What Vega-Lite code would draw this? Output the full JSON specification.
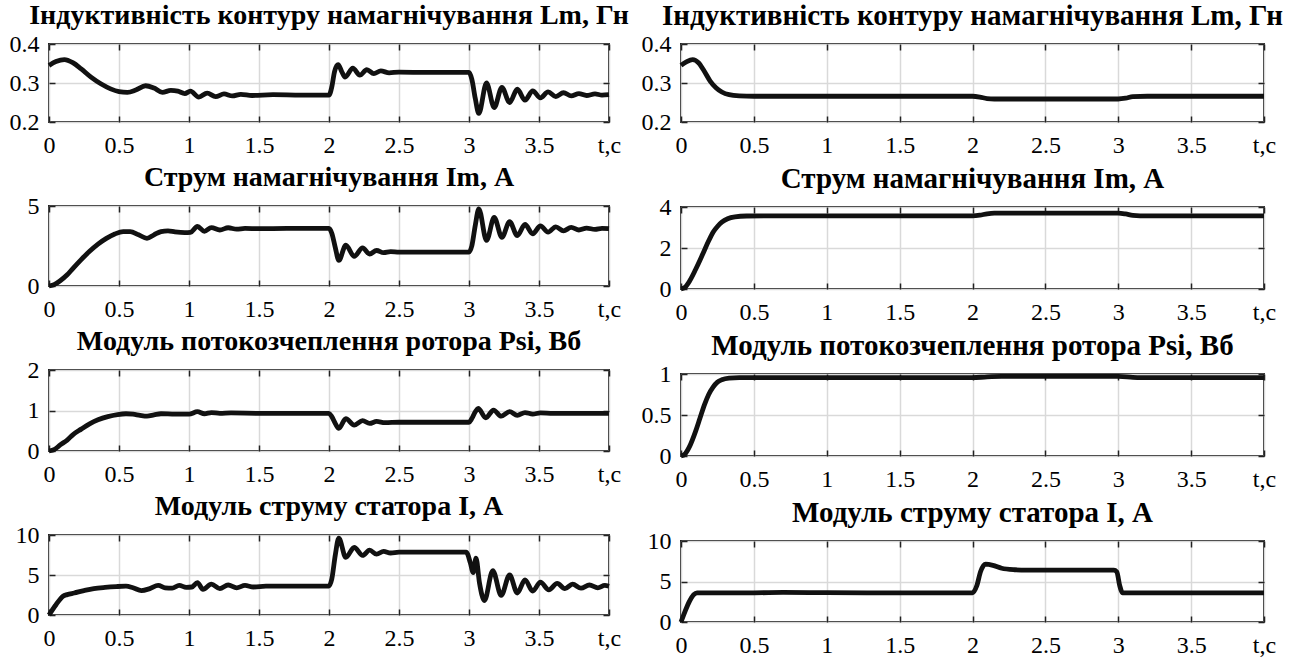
{
"$schema": "https://vega.github.io/schema/vega-lite/v6.json",
"background": "white",
"padding": {"left": 8, "top": 1, "right": 0, "bottom": 0},
"config": {
  "font": "Liberation Serif",
  "view": {"stroke": "#222", "strokeWidth": 2},
  "axis": {"domain": false, "tickSize": -6, "tickColor": "#222", "tickWidth": 1.5, "gridColor": "#d9d9d9", "gridWidth": 1.5, "labelFont": "Liberation Serif", "labelFontSize": 24, "labelColor": "#000", "labelFlush": false, "labelOverlap": false},
  "axisX": {"labelPadding": 17},
  "axisY": {"labelPadding": 16},
  "title": {"font": "Liberation Serif", "fontSize": 28, "fontWeight": "bold", "color": "#000", "baseline": "alphabetic", "offset": 2},
  "line": {"color": "#111", "strokeWidth": 4.8, "interpolate": "monotone"}
},
"datasets": {
 "L1": [{"t":0,"v":0.345},{"t":0.05,"v":0.355},{"t":0.11,"v":0.36},{"t":0.17,"v":0.352},{"t":0.23,"v":0.336},{"t":0.3,"v":0.315},{"t":0.37,"v":0.298},{"t":0.44,"v":0.285},{"t":0.5,"v":0.278},{"t":0.56,"v":0.276},{"t":0.62,"v":0.282},{"t":0.69,"v":0.293},{"t":0.75,"v":0.287},{"t":0.81,"v":0.276},{"t":0.87,"v":0.281},{"t":0.92,"v":0.279},{"t":0.97,"v":0.273},{"t":1.01,"v":0.279},{"t":1.07,"v":0.264},{"t":1.13,"v":0.274},{"t":1.19,"v":0.265},{"t":1.25,"v":0.272},{"t":1.31,"v":0.267},{"t":1.37,"v":0.271},{"t":1.45,"v":0.268},{"t":1.6,"v":0.27},{"t":1.8,"v":0.269},{"t":2.0,"v":0.269},{"t":2.02,"v":0.29},{"t":2.04,"v":0.33},{"t":2.065,"v":0.347},{"t":2.09,"v":0.33},{"t":2.115,"v":0.315},{"t":2.17,"v":0.338},{"t":2.22,"v":0.32},{"t":2.27,"v":0.334},{"t":2.32,"v":0.324},{"t":2.37,"v":0.331},{"t":2.43,"v":0.326},{"t":2.5,"v":0.328},{"t":2.7,"v":0.327},{"t":3.0,"v":0.327},{"t":3.02,"v":0.31},{"t":3.045,"v":0.26},{"t":3.07,"v":0.222},{"t":3.125,"v":0.3},{"t":3.18,"v":0.237},{"t":3.235,"v":0.289},{"t":3.29,"v":0.25},{"t":3.345,"v":0.284},{"t":3.4,"v":0.256},{"t":3.455,"v":0.28},{"t":3.51,"v":0.262},{"t":3.565,"v":0.277},{"t":3.62,"v":0.265},{"t":3.675,"v":0.275},{"t":3.73,"v":0.267},{"t":3.785,"v":0.273},{"t":3.84,"v":0.268},{"t":3.9,"v":0.272},{"t":3.95,"v":0.269},{"t":4.0,"v":0.27}],
 "R1": [{"t":0,"v":0.345},{"t":0.04,"v":0.355},{"t":0.08,"v":0.36},{"t":0.12,"v":0.352},{"t":0.16,"v":0.33},{"t":0.2,"v":0.305},{"t":0.24,"v":0.288},{"t":0.28,"v":0.277},{"t":0.33,"v":0.27},{"t":0.4,"v":0.267},{"t":0.5,"v":0.266},{"t":1.0,"v":0.266},{"t":1.5,"v":0.266},{"t":2.0,"v":0.266},{"t":2.05,"v":0.264},{"t":2.1,"v":0.26},{"t":2.15,"v":0.259},{"t":2.5,"v":0.259},{"t":3.0,"v":0.259},{"t":3.05,"v":0.261},{"t":3.1,"v":0.265},{"t":3.2,"v":0.266},{"t":4.0,"v":0.266}],
 "L2": [{"t":0,"v":0},{"t":0.04,"v":0.1},{"t":0.08,"v":0.33},{"t":0.13,"v":0.7},{"t":0.17,"v":1.09},{"t":0.23,"v":1.65},{"t":0.29,"v":2.17},{"t":0.35,"v":2.62},{"t":0.41,"v":2.98},{"t":0.47,"v":3.25},{"t":0.53,"v":3.4},{"t":0.58,"v":3.4},{"t":0.64,"v":3.2},{"t":0.7,"v":2.98},{"t":0.75,"v":3.2},{"t":0.8,"v":3.4},{"t":0.85,"v":3.45},{"t":0.9,"v":3.38},{"t":0.97,"v":3.33},{"t":1.01,"v":3.35},{"t":1.06,"v":3.72},{"t":1.11,"v":3.42},{"t":1.16,"v":3.65},{"t":1.22,"v":3.5},{"t":1.28,"v":3.64},{"t":1.34,"v":3.55},{"t":1.4,"v":3.6},{"t":1.5,"v":3.58},{"t":1.7,"v":3.6},{"t":2.0,"v":3.6},{"t":2.02,"v":3.3},{"t":2.045,"v":2.4},{"t":2.07,"v":1.6},{"t":2.12,"v":2.55},{"t":2.18,"v":1.85},{"t":2.24,"v":2.38},{"t":2.29,"v":2.0},{"t":2.34,"v":2.22},{"t":2.39,"v":2.08},{"t":2.44,"v":2.15},{"t":2.5,"v":2.12},{"t":2.7,"v":2.12},{"t":3.0,"v":2.12},{"t":3.02,"v":2.5},{"t":3.045,"v":3.8},{"t":3.07,"v":4.82},{"t":3.125,"v":2.85},{"t":3.18,"v":4.28},{"t":3.235,"v":3.04},{"t":3.29,"v":4.02},{"t":3.345,"v":3.15},{"t":3.4,"v":3.85},{"t":3.455,"v":3.26},{"t":3.51,"v":3.76},{"t":3.565,"v":3.37},{"t":3.62,"v":3.7},{"t":3.675,"v":3.45},{"t":3.73,"v":3.66},{"t":3.785,"v":3.5},{"t":3.84,"v":3.62},{"t":3.9,"v":3.54},{"t":3.95,"v":3.6},{"t":4.0,"v":3.58}],
 "R2": [{"t":0,"v":0},{"t":0.03,"v":0.1},{"t":0.06,"v":0.4},{"t":0.1,"v":0.95},{"t":0.13,"v":1.4},{"t":0.16,"v":1.88},{"t":0.19,"v":2.35},{"t":0.22,"v":2.77},{"t":0.25,"v":3.05},{"t":0.28,"v":3.26},{"t":0.32,"v":3.43},{"t":0.37,"v":3.52},{"t":0.45,"v":3.56},{"t":0.6,"v":3.57},{"t":1.0,"v":3.57},{"t":1.5,"v":3.57},{"t":2.0,"v":3.57},{"t":2.05,"v":3.6},{"t":2.1,"v":3.67},{"t":2.15,"v":3.7},{"t":2.5,"v":3.7},{"t":3.0,"v":3.7},{"t":3.05,"v":3.66},{"t":3.1,"v":3.59},{"t":3.15,"v":3.57},{"t":4.0,"v":3.57}],
 "L3": [{"t":0,"v":0},{"t":0.04,"v":0.04},{"t":0.08,"v":0.15},{"t":0.13,"v":0.27},{"t":0.17,"v":0.4},{"t":0.23,"v":0.54},{"t":0.29,"v":0.67},{"t":0.35,"v":0.77},{"t":0.42,"v":0.85},{"t":0.49,"v":0.9},{"t":0.55,"v":0.92},{"t":0.6,"v":0.91},{"t":0.65,"v":0.88},{"t":0.7,"v":0.86},{"t":0.75,"v":0.89},{"t":0.8,"v":0.92},{"t":0.9,"v":0.91},{"t":1.0,"v":0.91},{"t":1.06,"v":0.97},{"t":1.11,"v":0.92},{"t":1.16,"v":0.95},{"t":1.22,"v":0.93},{"t":1.3,"v":0.94},{"t":1.5,"v":0.93},{"t":2.0,"v":0.93},{"t":2.02,"v":0.85},{"t":2.045,"v":0.68},{"t":2.07,"v":0.56},{"t":2.12,"v":0.8},{"t":2.18,"v":0.64},{"t":2.24,"v":0.75},{"t":2.29,"v":0.68},{"t":2.34,"v":0.73},{"t":2.4,"v":0.7},{"t":2.5,"v":0.71},{"t":3.0,"v":0.71},{"t":3.02,"v":0.8},{"t":3.045,"v":0.97},{"t":3.065,"v":1.05},{"t":3.12,"v":0.82},{"t":3.175,"v":1.01},{"t":3.23,"v":0.86},{"t":3.29,"v":0.97},{"t":3.345,"v":0.88},{"t":3.4,"v":0.95},{"t":3.455,"v":0.91},{"t":3.51,"v":0.94},{"t":3.6,"v":0.93},{"t":4.0,"v":0.93}],
 "R3": [{"t":0,"v":0},{"t":0.03,"v":0.03},{"t":0.06,"v":0.12},{"t":0.1,"v":0.3},{"t":0.13,"v":0.46},{"t":0.16,"v":0.62},{"t":0.19,"v":0.75},{"t":0.22,"v":0.84},{"t":0.25,"v":0.9},{"t":0.28,"v":0.93},{"t":0.33,"v":0.95},{"t":0.4,"v":0.955},{"t":1.0,"v":0.955},{"t":2.0,"v":0.955},{"t":2.1,"v":0.965},{"t":2.2,"v":0.97},{"t":3.0,"v":0.97},{"t":3.1,"v":0.96},{"t":3.2,"v":0.955},{"t":4.0,"v":0.955}],
 "L4": [{"t":0,"v":0},{"t":0.05,"v":1.28},{"t":0.1,"v":2.35},{"t":0.13,"v":2.55},{"t":0.18,"v":2.75},{"t":0.25,"v":3.05},{"t":0.32,"v":3.3},{"t":0.4,"v":3.45},{"t":0.48,"v":3.55},{"t":0.55,"v":3.6},{"t":0.6,"v":3.4},{"t":0.66,"v":3.05},{"t":0.72,"v":3.3},{"t":0.78,"v":3.7},{"t":0.83,"v":3.4},{"t":0.88,"v":3.35},{"t":0.93,"v":3.7},{"t":0.98,"v":3.45},{"t":1.02,"v":3.5},{"t":1.06,"v":4.05},{"t":1.1,"v":3.2},{"t":1.16,"v":3.85},{"t":1.22,"v":3.3},{"t":1.28,"v":3.75},{"t":1.34,"v":3.4},{"t":1.4,"v":3.7},{"t":1.46,"v":3.5},{"t":1.55,"v":3.62},{"t":1.7,"v":3.6},{"t":2.0,"v":3.62},{"t":2.02,"v":4.5},{"t":2.045,"v":7.5},{"t":2.07,"v":9.6},{"t":2.12,"v":7.2},{"t":2.18,"v":8.45},{"t":2.24,"v":7.45},{"t":2.29,"v":8.1},{"t":2.34,"v":7.6},{"t":2.39,"v":7.95},{"t":2.44,"v":7.75},{"t":2.5,"v":7.85},{"t":2.7,"v":7.85},{"t":2.98,"v":7.85},{"t":3.01,"v":6.5},{"t":3.03,"v":5.3},{"t":3.05,"v":7.1},{"t":3.075,"v":4.0},{"t":3.11,"v":1.8},{"t":3.17,"v":5.55},{"t":3.23,"v":2.45},{"t":3.29,"v":5.0},{"t":3.345,"v":2.75},{"t":3.4,"v":4.4},{"t":3.455,"v":3.0},{"t":3.51,"v":4.1},{"t":3.57,"v":3.15},{"t":3.63,"v":3.95},{"t":3.685,"v":3.3},{"t":3.74,"v":3.85},{"t":3.8,"v":3.35},{"t":3.86,"v":3.75},{"t":3.92,"v":3.4},{"t":3.97,"v":3.7},{"t":4.0,"v":3.6}],
 "R4": [{"t":0,"v":0},{"t":0.11,"v":3.6},{"t":0.5,"v":3.6},{"t":0.7,"v":3.65},{"t":1.0,"v":3.62},{"t":1.5,"v":3.6},{"t":2.0,"v":3.6},{"t":2.03,"v":4.5},{"t":2.055,"v":6.2},{"t":2.09,"v":7.14},{"t":2.14,"v":7.0},{"t":2.2,"v":6.64},{"t":2.29,"v":6.45},{"t":2.37,"v":6.4},{"t":2.97,"v":6.4},{"t":2.99,"v":6.2},{"t":3.01,"v":4.5},{"t":3.03,"v":3.6},{"t":4.0,"v":3.6}]
},
"hconcat": [
 {"vconcat": [
  {"width": 560, "height": 78, "title": {"text": "Індуктивність контуру намагнічування Lm, Гн", "font": "Liberation Serif"}, "data": {"name": "L1"},
   "layer": [
    {"mark": {"type": "line"}, "encoding": {
      "x": {"field": "t", "type": "quantitative", "scale": {"domain": [0, 4], "nice": false}, "axis": {"title": null, "labelFont": "Liberation Serif", "values": [0, 0.5, 1, 1.5, 2, 2.5, 3, 3.5, 4], "labelExpr": "datum.value == 4 ? 't,c' : toString(datum.value)"}},
      "y": {"field": "v", "type": "quantitative", "scale": {"domain": [0.2, 0.4], "nice": false, "zero": false}, "axis": {"title": null, "labelFont": "Liberation Serif", "values": [0.2, 0.3, 0.4], "labelExpr": "toString(datum.value)"}}}},
    {"mark": {"type": "line", "opacity": 0}, "encoding": {
      "x": {"field": "t", "type": "quantitative", "axis": {"orient": "top", "title": null, "labels": false, "grid": false, "values": [0, 0.5, 1, 1.5, 2, 2.5, 3, 3.5, 4]}},
      "y": {"field": "v", "type": "quantitative", "axis": {"orient": "right", "title": null, "labels": false, "grid": false, "values": [0.2, 0.3, 0.4]}}}}
   ], "resolve": {"axis": {"x": "independent", "y": "independent"}}},
  {"width": 560, "height": 80, "title": {"text": "Струм намагнічування Im, А", "font": "Liberation Serif"}, "data": {"name": "L2"},
   "layer": [
    {"mark": {"type": "line"}, "encoding": {
      "x": {"field": "t", "type": "quantitative", "scale": {"domain": [0, 4], "nice": false}, "axis": {"title": null, "labelFont": "Liberation Serif", "values": [0, 0.5, 1, 1.5, 2, 2.5, 3, 3.5, 4], "labelExpr": "datum.value == 4 ? 't,c' : toString(datum.value)"}},
      "y": {"field": "v", "type": "quantitative", "scale": {"domain": [0, 5], "nice": false}, "axis": {"title": null, "labelFont": "Liberation Serif", "values": [0, 5], "labelExpr": "toString(datum.value)"}}}},
    {"mark": {"type": "line", "opacity": 0}, "encoding": {
      "x": {"field": "t", "type": "quantitative", "axis": {"orient": "top", "title": null, "labels": false, "grid": false, "values": [0, 0.5, 1, 1.5, 2, 2.5, 3, 3.5, 4]}},
      "y": {"field": "v", "type": "quantitative", "axis": {"orient": "right", "title": null, "labels": false, "grid": false, "values": [0, 5]}}}}
   ], "resolve": {"axis": {"x": "independent", "y": "independent"}}},
  {"width": 560, "height": 81, "title": {"text": "Модуль потокозчеплення ротора Psi, Вб", "font": "Liberation Serif"}, "data": {"name": "L3"},
   "layer": [
    {"mark": {"type": "line"}, "encoding": {
      "x": {"field": "t", "type": "quantitative", "scale": {"domain": [0, 4], "nice": false}, "axis": {"title": null, "labelFont": "Liberation Serif", "values": [0, 0.5, 1, 1.5, 2, 2.5, 3, 3.5, 4], "labelExpr": "datum.value == 4 ? 't,c' : toString(datum.value)"}},
      "y": {"field": "v", "type": "quantitative", "scale": {"domain": [0, 2], "nice": false}, "axis": {"title": null, "labelFont": "Liberation Serif", "values": [0, 1, 2], "labelExpr": "toString(datum.value)"}}}},
    {"mark": {"type": "line", "opacity": 0}, "encoding": {
      "x": {"field": "t", "type": "quantitative", "axis": {"orient": "top", "title": null, "labels": false, "grid": false, "values": [0, 0.5, 1, 1.5, 2, 2.5, 3, 3.5, 4]}},
      "y": {"field": "v", "type": "quantitative", "axis": {"orient": "right", "title": null, "labels": false, "grid": false, "values": [0, 1, 2]}}}}
   ], "resolve": {"axis": {"x": "independent", "y": "independent"}}},
  {"width": 560, "height": 80, "title": {"text": "Модуль струму статора I, А", "font": "Liberation Serif"}, "data": {"name": "L4"},
   "layer": [
    {"mark": {"type": "line"}, "encoding": {
      "x": {"field": "t", "type": "quantitative", "scale": {"domain": [0, 4], "nice": false}, "axis": {"title": null, "labelFont": "Liberation Serif", "values": [0, 0.5, 1, 1.5, 2, 2.5, 3, 3.5, 4], "labelExpr": "datum.value == 4 ? 't,c' : toString(datum.value)"}},
      "y": {"field": "v", "type": "quantitative", "scale": {"domain": [0, 10], "nice": false}, "axis": {"title": null, "labelFont": "Liberation Serif", "values": [0, 5, 10], "labelExpr": "toString(datum.value)"}}}},
    {"mark": {"type": "line", "opacity": 0}, "encoding": {
      "x": {"field": "t", "type": "quantitative", "axis": {"orient": "top", "title": null, "labels": false, "grid": false, "values": [0, 0.5, 1, 1.5, 2, 2.5, 3, 3.5, 4]}},
      "y": {"field": "v", "type": "quantitative", "axis": {"orient": "right", "title": null, "labels": false, "grid": false, "values": [0, 5, 10]}}}}
   ], "resolve": {"axis": {"x": "independent", "y": "independent"}}}
 ], "spacing": 84, "bounds": "flush"},
 {"vconcat": [
  {"width": 583, "height": 78, "title": {"text": "Індуктивність контуру намагнічування Lm, Гн", "font": "Liberation Serif", "fontSize": 29, "offset": 1}, "data": {"name": "R1"},
   "layer": [
    {"mark": {"type": "line"}, "encoding": {
      "x": {"field": "t", "type": "quantitative", "scale": {"domain": [0, 4], "nice": false}, "axis": {"title": null, "labelFont": "Liberation Serif", "values": [0, 0.5, 1, 1.5, 2, 2.5, 3, 3.5, 4], "labelExpr": "datum.value == 4 ? 't,c' : toString(datum.value)"}},
      "y": {"field": "v", "type": "quantitative", "scale": {"domain": [0.2, 0.4], "nice": false, "zero": false}, "axis": {"title": null, "labelFont": "Liberation Serif", "values": [0.2, 0.3, 0.4], "labelExpr": "toString(datum.value)"}}}},
    {"mark": {"type": "line", "opacity": 0}, "encoding": {
      "x": {"field": "t", "type": "quantitative", "axis": {"orient": "top", "title": null, "labels": false, "grid": false, "values": [0, 0.5, 1, 1.5, 2, 2.5, 3, 3.5, 4]}},
      "y": {"field": "v", "type": "quantitative", "axis": {"orient": "right", "title": null, "labels": false, "grid": false, "values": [0.2, 0.3, 0.4]}}}}
   ], "resolve": {"axis": {"x": "independent", "y": "independent"}}},
  {"width": 583, "height": 82, "title": {"text": "Струм намагнічування Im, А", "font": "Liberation Serif", "fontSize": 29, "offset": 1}, "data": {"name": "R2"},
   "layer": [
    {"mark": {"type": "line"}, "encoding": {
      "x": {"field": "t", "type": "quantitative", "scale": {"domain": [0, 4], "nice": false}, "axis": {"title": null, "labelFont": "Liberation Serif", "values": [0, 0.5, 1, 1.5, 2, 2.5, 3, 3.5, 4], "labelExpr": "datum.value == 4 ? 't,c' : toString(datum.value)"}},
      "y": {"field": "v", "type": "quantitative", "scale": {"domain": [0, 4], "nice": false}, "axis": {"title": null, "labelFont": "Liberation Serif", "values": [0, 2, 4], "labelExpr": "toString(datum.value)"}}}},
    {"mark": {"type": "line", "opacity": 0}, "encoding": {
      "x": {"field": "t", "type": "quantitative", "axis": {"orient": "top", "title": null, "labels": false, "grid": false, "values": [0, 0.5, 1, 1.5, 2, 2.5, 3, 3.5, 4]}},
      "y": {"field": "v", "type": "quantitative", "axis": {"orient": "right", "title": null, "labels": false, "grid": false, "values": [0, 2, 4]}}}}
   ], "resolve": {"axis": {"x": "independent", "y": "independent"}}},
  {"width": 583, "height": 82, "title": {"text": "Модуль потокозчеплення ротора Psi, Вб", "font": "Liberation Serif", "fontSize": 29, "offset": 1}, "data": {"name": "R3"},
   "layer": [
    {"mark": {"type": "line"}, "encoding": {
      "x": {"field": "t", "type": "quantitative", "scale": {"domain": [0, 4], "nice": false}, "axis": {"title": null, "labelFont": "Liberation Serif", "values": [0, 0.5, 1, 1.5, 2, 2.5, 3, 3.5, 4], "labelExpr": "datum.value == 4 ? 't,c' : toString(datum.value)"}},
      "y": {"field": "v", "type": "quantitative", "scale": {"domain": [0, 1], "nice": false}, "axis": {"title": null, "labelFont": "Liberation Serif", "values": [0, 0.5, 1], "labelExpr": "toString(datum.value)"}}}},
    {"mark": {"type": "line", "opacity": 0}, "encoding": {
      "x": {"field": "t", "type": "quantitative", "axis": {"orient": "top", "title": null, "labels": false, "grid": false, "values": [0, 0.5, 1, 1.5, 2, 2.5, 3, 3.5, 4]}},
      "y": {"field": "v", "type": "quantitative", "axis": {"orient": "right", "title": null, "labels": false, "grid": false, "values": [0, 0.5, 1]}}}}
   ], "resolve": {"axis": {"x": "independent", "y": "independent"}}},
  {"width": 583, "height": 81, "title": {"text": "Модуль струму статора I, А", "font": "Liberation Serif", "fontSize": 29, "offset": 1}, "data": {"name": "R4"},
   "layer": [
    {"mark": {"type": "line"}, "encoding": {
      "x": {"field": "t", "type": "quantitative", "scale": {"domain": [0, 4], "nice": false}, "axis": {"title": null, "labelFont": "Liberation Serif", "values": [0, 0.5, 1, 1.5, 2, 2.5, 3, 3.5, 4], "labelExpr": "datum.value == 4 ? 't,c' : toString(datum.value)"}},
      "y": {"field": "v", "type": "quantitative", "scale": {"domain": [0, 10], "nice": false}, "axis": {"title": null, "labelFont": "Liberation Serif", "values": [0, 5, 10], "labelExpr": "toString(datum.value)"}}}},
    {"mark": {"type": "line", "opacity": 0}, "encoding": {
      "x": {"field": "t", "type": "quantitative", "axis": {"orient": "top", "title": null, "labels": false, "grid": false, "values": [0, 0.5, 1, 1.5, 2, 2.5, 3, 3.5, 4]}},
      "y": {"field": "v", "type": "quantitative", "axis": {"orient": "right", "title": null, "labels": false, "grid": false, "values": [0, 5, 10]}}}}
   ], "resolve": {"axis": {"x": "independent", "y": "independent"}}}
 ], "spacing": 85, "bounds": "flush"}
],
"spacing": 10
}
